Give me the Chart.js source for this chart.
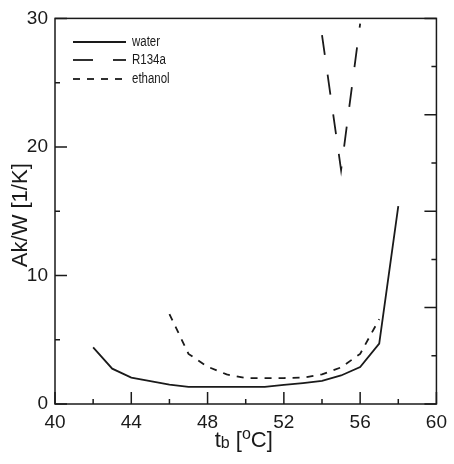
<!DOCTYPE html>
<html>
<head>
<meta charset="utf-8">
<script src="https://cdn.jsdelivr.net/npm/chart.js@4.4.0/dist/chart.umd.min.js"></script>
<style>
  html, body { margin: 0; padding: 0; background: #fff; }
  #wrap { width: 454px; height: 464px; }
</style>
</head>
<body>
<div id="wrap"><canvas id="chart"></canvas></div>
<script>
// tb [oC] and Ak/W [1/K]
const waterT = [42, 43, 44, 45, 46, 47, 48, 49, 50, 51, 52, 53, 54, 55, 56, 57, 58];
const waterAkW = [4.4, 2.75, 2.05, 1.78, 1.5, 1.33, 1.33, 1.33, 1.33, 1.33, 1.48, 1.63, 1.8, 2.22, 2.88, 4.7, 15.4];

const r134aT = [54, 55, 56];
const r134aAkW = [28.7, 18.2, 29.6];

const ethanolT = [46, 47, 48, 49, 50, 51, 52, 53, 54, 55, 56, 57];
const ethanolAkW = [7.0, 3.9, 2.9, 2.3, 2.02, 2.02, 2.02, 2.05, 2.3, 2.85, 3.9, 6.6];

const xTickLabels = [40, 44, 48, 52, 56, 60];
const yTickLabels = [0, 10, 20, 30];

const INK = '#1a1a1a';
const FONT = 'Liberation Sans, Arial, sans-serif';

const toPoints = (xs, ys) => xs.map((x, i) => ({ x: x, y: ys[i] }));

// frame, inward ticks, legend and axis titles
const decorations = {
  id: 'decorations',
  afterDraw(chart) {
    const { ctx, chartArea: a, scales } = chart;
    ctx.save();
    ctx.strokeStyle = INK;
    ctx.lineWidth = 1.5;
    ctx.strokeRect(a.left, a.top, a.right - a.left, a.bottom - a.top);

    ctx.beginPath();
    scales.x.ticks.forEach(t => {
      const px = scales.x.getPixelForValue(t.value);
      const len = t.value % 4 === 0 ? 12 : 5;
      ctx.moveTo(px, a.bottom);
      ctx.lineTo(px, a.bottom - len);
    });
    scales.y.ticks.forEach(t => {
      const py = scales.y.getPixelForValue(t.value);
      const len = t.value % 10 === 0 ? 12 : 5;
      ctx.moveTo(a.left, py);
      ctx.lineTo(a.left + len, py);
    });
    scales.y2.ticks.forEach(t => {
      const py = scales.y2.getPixelForValue(t.value);
      const len = t.value % 2 === 0 ? 12 : 5;
      ctx.moveTo(a.right, py);
      ctx.lineTo(a.right - len, py);
    });
    ctx.stroke();

    // legend
    const rows = [42, 60, 79];
    chart.data.datasets.forEach((ds, i) => {
      const y = rows[i];
      ctx.beginPath();
      ctx.setLineDash(ds.borderDash || []);
      ctx.lineWidth = ds.borderWidth;
      ctx.moveTo(a.left + 18, y);
      ctx.lineTo(a.left + 71, y);
      ctx.stroke();
      ctx.setLineDash([]);
      ctx.save();
      ctx.translate(a.left + 77, y + 4);
      ctx.scale(0.82, 1);
      ctx.fillStyle = INK;
      ctx.font = '14px ' + FONT;
      ctx.textBaseline = 'alphabetic';
      ctx.fillText(ds.label, 0, 0);
      ctx.restore();
    });

    // y title
    ctx.fillStyle = INK;
    ctx.save();
    ctx.translate(21, (a.top + a.bottom) / 2 + 4);
    ctx.rotate(-Math.PI / 2);
    ctx.font = '22px ' + FONT;
    ctx.textAlign = 'center';
    ctx.textBaseline = 'middle';
    ctx.fillText('Ak/W [1/K]', 0, 0);
    ctx.restore();

    // x title: t_b [^oC]
    const parts = [
      { s: 't', size: 22, dy: 0 },
      { s: 'b', size: 16, dy: 1 },
      { s: ' [', size: 22, dy: 0 },
      { s: 'o', size: 16, dy: -8 },
      { s: 'C]', size: 22, dy: 0 }
    ];
    let w = 0;
    parts.forEach(p => { ctx.font = p.size + 'px ' + FONT; p.w = ctx.measureText(p.s).width; w += p.w; });
    let x = (a.left + a.right) / 2 - 2 - w / 2;
    const base = 447;
    ctx.textBaseline = 'alphabetic';
    ctx.textAlign = 'left';
    parts.forEach(p => {
      ctx.font = p.size + 'px ' + FONT;
      ctx.fillText(p.s, x, base + p.dy);
      x += p.w;
    });
    ctx.restore();
  }
};

new Chart(document.getElementById('chart'), {
  type: 'line',
  data: {
    datasets: [
      {
        label: 'water',
        data: toPoints(waterT, waterAkW),
        borderColor: INK,
        borderWidth: 1.8,
        pointRadius: 0,
        fill: false
      },
      {
        label: 'R134a',
        data: toPoints(r134aT, r134aAkW),
        borderColor: INK,
        borderWidth: 1.8,
        borderDash: [20, 20],
        pointRadius: 0,
        fill: false
      },
      {
        label: 'ethanol',
        data: toPoints(ethanolT, ethanolAkW),
        borderColor: INK,
        borderWidth: 1.8,
        borderDash: [7, 7],
        pointRadius: 0,
        fill: false
      }
    ]
  },
  options: {
    responsive: true,
    maintainAspectRatio: false,
    animation: false,
    layout: { padding: { left: 0, top: 15, right: 12, bottom: 0 } },
    plugins: {
      legend: { display: false },
      tooltip: { enabled: false }
    },
    scales: {
      x: {
        type: 'linear',
        min: 40,
        max: 60,
        grid: { display: false, drawTicks: false },
        border: { display: false },
        ticks: {
          stepSize: 2,
          autoSkip: false,
          maxRotation: 0,
          padding: 7,
          color: INK,
          font: { family: FONT, size: 19 },
          callback: v => xTickLabels.includes(v) ? String(v) : ''
        },
        afterFit: s => { s.height = 60; }
      },
      y: {
        type: 'linear',
        min: 0,
        max: 30,
        grid: { display: false, drawTicks: false },
        border: { display: false },
        ticks: {
          stepSize: 5,
          autoSkip: false,
          padding: 7,
          color: INK,
          font: { family: FONT, size: 19 },
          callback: v => yTickLabels.includes(v) ? String(v) : ''
        },
        afterFit: s => { s.width = 55; }
      },
      y2: {
        type: 'linear',
        position: 'right',
        min: 0,
        max: 8,
        grid: { display: false, drawTicks: false },
        border: { display: false },
        ticks: { stepSize: 1, display: false, autoSkip: false },
        afterFit: s => { s.width = 0; }
      }
    }
  },
  plugins: [decorations]
});
</script>
</body>
</html>
